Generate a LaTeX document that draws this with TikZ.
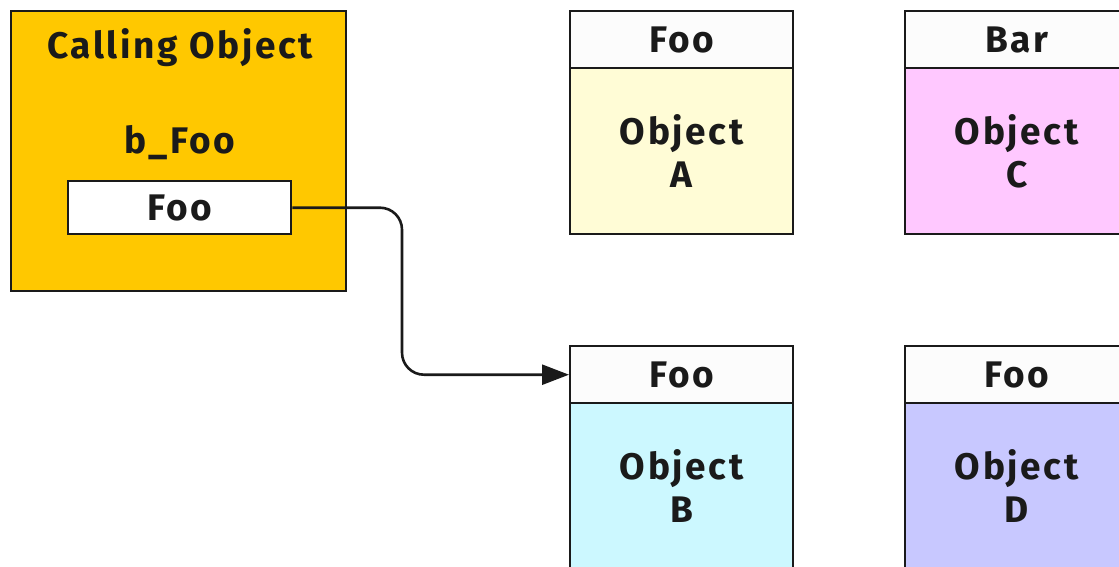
\documentclass[tikz,border=0pt]{standalone}
\usepackage{fontspec}
\setmainfont[LetterSpace=7]{Fira Sans}
\usetikzlibrary{arrows.meta}
\definecolor{gold}{HTML}{FFC800}
\definecolor{hdr}{HTML}{FCFCFC}
\definecolor{ya}{HTML}{FFFCD6}
\definecolor{pc}{HTML}{FFC8FF}
\definecolor{cb}{HTML}{CCF8FF}
\definecolor{ld}{HTML}{C8C8FF}
\definecolor{ink}{HTML}{1A1A1A}
\tikzset{
  every node/.style={font=\bfseries\fontsize{18.5}{21.5}\selectfont, text=ink},
  boxline/.style={draw=ink, line width=1.2pt},
  hdrbox/.style={boxline, fill=hdr, anchor=north west, minimum width=111.5pt, minimum height=28.5pt, inner sep=0pt},
  bodybox/.style={boxline, anchor=north west, minimum width=111.5pt, minimum height=83pt, inner sep=0pt, align=center},
  conn/.style={draw=ink, line width=1.3pt, rounded corners=11pt, -{Triangle[length=13.5pt,width=10pt]}}
}
\begin{document}
\begin{tikzpicture}[x=0.5pt,y=-0.5pt]
\useasboundingbox (0,0) rectangle (1119,567);
\clip (0,0) rectangle (1119,567);
% calling object
\node[boxline, fill=gold, anchor=north west, minimum width=167.5pt, minimum height=140pt, inner sep=0pt] (call) at (10,10) {};
\node (calltitle) at (180,48) {Calling Object};
\node (bfoo) at (180,143) {b\_Foo};
\node[boxline, fill=white, anchor=north west, minimum width=111.5pt, minimum height=26.5pt, inner sep=0pt] (ref) at (67,180) {Foo};
% objects
\node[bodybox, fill=ya] (Ab) at (569,67) {Object\\A};
\node[hdrbox] (Ah) at (569,10) {Foo};
\node[bodybox, fill=pc] (Cb) at (904,67) {Object\\C};
\node[hdrbox] (Ch) at (904,10) {Bar};
\node[bodybox, fill=cb] (Bb) at (569,402) {Object\\B};
\node[hdrbox] (Bh) at (569,345) {Foo};
\node[bodybox, fill=ld] (Db) at (904,402) {Object\\D};
\node[hdrbox] (Dh) at (904,345) {Foo};
% connector
\coordinate (mid) at (402,290);
\draw[conn] (ref.east) -| (mid) |- (Bh.west);
\end{tikzpicture}
\end{document}
